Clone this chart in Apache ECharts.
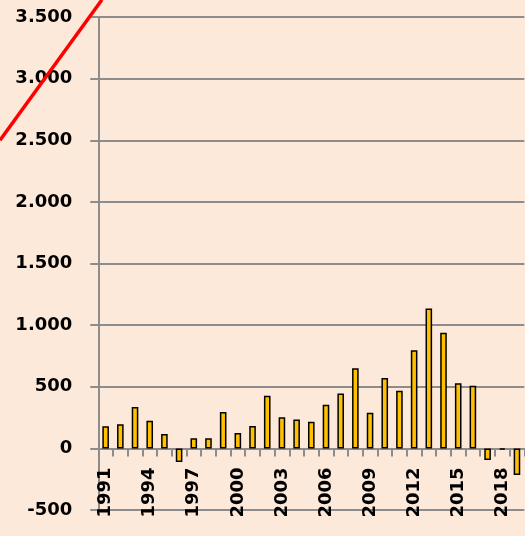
<!DOCTYPE html>
<html>
<head>
<meta charset="utf-8">
<script src="https://cdn.jsdelivr.net/npm/echarts@6/dist/echarts.min.js"></script>
<style>
  html, body { margin: 0; padding: 0; background: #FDE9D9; }
  #chart { width: 525px; height: 536px; }
</style>
</head>
<body>
<div id="chart"></div>
<script>
// Datos
var years = ['1991', '1992', '1993', '1994', '1995', '1996', '1997', '1998', '1999', '2000',
             '2001', '2002', '2003', '2004', '2005', '2006', '2007', '2008', '2009', '2010',
             '2011', '2012', '2013', '2014', '2015', '2016', '2017', '2018', '2019'];
var values = [180, 195, 335, 225, 116, -110, 82, 82, 295, 124,
              181, 427, 252, 234, 216, 354, 446, 650, 289, 571,
              468, 796, 1134, 939, 528, 508, -95, -12, -217];

// Linea roja (tendencia) en escala de años / valor
var redLineYears = [1983.81, 1990.75];
var redLineValues = [2500, 3640];

var Y_MIN = -500, Y_MAX = 3500, Y_STEP = 500;
var GRID_TOP = 17, GRID_BOTTOM = 26, CHART_H = 536;

function fmtMiles(v) {
    var s = String(Math.abs(v)).replace(/\B(?=(\d{3})+(?!\d))/g, '.');
    return (v < 0 ? '-' : '') + s;
}

// distancia entre el borde inferior del grid y la linea del cero
var plotH = CHART_H - GRID_TOP - GRID_BOTTOM;
var zeroOffset = plotH * (0 - Y_MIN) / (Y_MAX - Y_MIN);

var chart = echarts.init(document.getElementById('chart'));
var GRIS = '#8c8c8c';

chart.setOption({
    backgroundColor: '#FDE9D9',
    animation: false,
    grid: [
        { left: 98.3, right: 0.7, top: GRID_TOP, bottom: GRID_BOTTOM, outerBoundsMode: 'none', containLabel: false },
        { left: 0, right: 0.7, top: GRID_TOP, bottom: GRID_BOTTOM, outerBoundsMode: 'none', containLabel: false }
    ],
    xAxis: [{
        type: 'category',
        gridIndex: 0,
        data: years,
        boundaryGap: true,
        // el eje de categorias se dibuja sobre la linea del cero
        offset: -zeroOffset,
        axisLine: { onZero: false, lineStyle: { color: GRIS, width: 2 } },
        axisTick: { show: true, length: 8, interval: 0, lineStyle: { color: GRIS, width: 2 } },
        axisLabel: {
            rotate: 90,
            interval: 2,
            margin: 19,
            fontFamily: 'DejaVu Sans',
            fontWeight: 'bold',
            fontSize: 18,
            color: '#000'
        },
        splitLine: { show: false }
    }, {
        type: 'value',
        gridIndex: 1,
        min: 1983.81,
        max: 2019.5,
        show: false
    }],
    yAxis: [{
        type: 'value',
        gridIndex: 0,
        min: Y_MIN,
        max: Y_MAX,
        interval: Y_STEP,
        axisLine: { show: true, lineStyle: { color: GRIS, width: 2 } },
        axisTick: { show: true, length: 8, lineStyle: { color: GRIS, width: 2 } },
        axisLabel: {
            margin: 26,
            formatter: fmtMiles,
            fontFamily: 'DejaVu Sans',
            fontWeight: 'bold',
            fontSize: 18,
            color: '#000'
        },
        splitLine: { show: true, lineStyle: { color: GRIS, width: 2 } }
    }, {
        type: 'value',
        gridIndex: 1,
        min: Y_MIN,
        max: Y_MAX,
        show: false
    }],
    series: [{
        type: 'bar',
        xAxisIndex: 0,
        yAxisIndex: 0,
        data: values,
        barWidth: '45%',
        itemStyle: { color: '#FFC000', borderColor: '#000', borderWidth: 1.5 }
    }, {
        type: 'line',
        xAxisIndex: 1,
        yAxisIndex: 1,
        clip: false,
        symbol: 'none',
        z: 10,
        data: redLineYears.map(function (y, i) { return [y, redLineValues[i]]; }),
        lineStyle: { color: '#FF0000', width: 3.5 }
    }]
});
</script>
</body>
</html>
